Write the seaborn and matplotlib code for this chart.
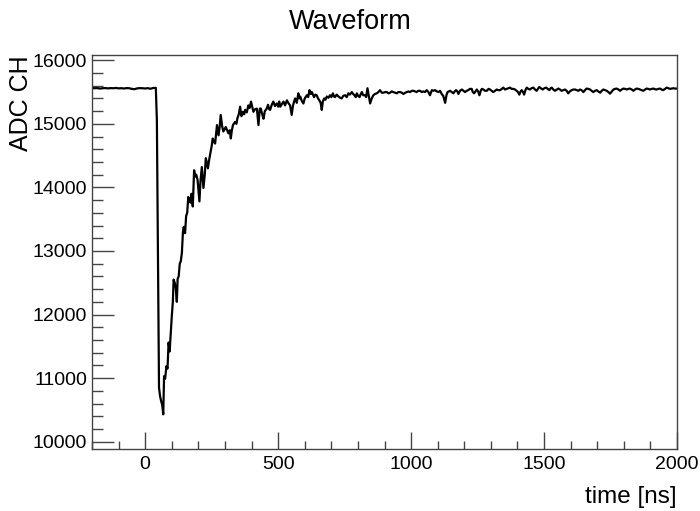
import numpy as np
import pandas as pd
import matplotlib
matplotlib.use("Agg")
import matplotlib.pyplot as plt
import seaborn as sns
from matplotlib.ticker import MultipleLocator

# Waveform samples (time in ns, ADC counts)
time_ns = [
    -200, -190, -180, -170, -160, -150, -140, -130, -120, -110, -100, -90, -80,
    -70, -60, -50, -40, -30, -20, -10, 0, 10, 20, 30, 40, 44, 48, 52, 56, 60,
    64, 68, 71, 75, 80, 84, 88, 92, 96, 100, 104, 107, 111, 115, 119, 122, 126,
    130, 134, 138, 142, 145, 150, 154, 158, 162, 166, 170, 174, 179, 184, 188,
    192, 197, 204, 208, 213, 219, 224, 228, 236, 240, 244, 250, 254, 258, 263,
    270, 276, 280, 284, 290, 294, 303, 308, 313, 318, 322, 326, 330, 338, 343,
    347, 352, 357, 362, 367, 372, 376, 382, 388, 393, 398, 403, 407, 413, 420,
    426, 431, 435, 440, 445, 450, 457, 462, 466, 470, 476, 482, 488, 495, 500,
    504, 508, 514, 520, 526, 533, 538, 545, 551, 556, 560, 564, 570, 576, 580,
    583, 589, 595, 600, 608, 613, 618, 623, 627, 631, 635, 640, 645, 650, 655,
    660, 664, 668, 673, 678, 683, 689, 695, 700, 706, 710, 714, 720, 727, 733,
    739, 745, 752, 758, 764, 770, 777, 782, 787, 792, 796, 801, 806, 811, 815,
    820, 827, 831, 836, 841, 846, 852, 858, 864, 871, 877, 883, 890, 896, 903,
    909, 915, 921, 927, 933, 940, 946, 952, 959, 965, 971, 978, 984, 990, 996,
    1003, 1009, 1015, 1021, 1027, 1034, 1040, 1046, 1052, 1059, 1065, 1071,
    1078, 1084, 1090, 1097, 1103, 1109, 1115, 1121, 1128, 1133, 1137, 1142,
    1147, 1153, 1159, 1164, 1169, 1174, 1178, 1184, 1191, 1197, 1203, 1209,
    1215, 1221, 1228, 1232, 1237, 1242, 1247, 1252, 1257, 1262, 1266, 1272,
    1278, 1285, 1291, 1297, 1303, 1309, 1316, 1322, 1328, 1335, 1341, 1347,
    1353, 1360, 1366, 1372, 1378, 1385, 1391, 1397, 1402, 1407, 1412, 1416,
    1421, 1425, 1430, 1435, 1441, 1447, 1453, 1460, 1466, 1472, 1477, 1482,
    1488, 1495, 1501, 1508, 1514, 1520, 1525, 1529, 1535, 1541, 1548, 1554,
    1560, 1566, 1572, 1579, 1585, 1591, 1597, 1604, 1610, 1617, 1623, 1629,
    1635, 1641, 1648, 1654, 1660, 1667, 1673, 1679, 1685, 1692, 1698, 1704,
    1711, 1717, 1723, 1730, 1736, 1742, 1748, 1755, 1761, 1767, 1773, 1780,
    1786, 1792, 1798, 1805, 1811, 1817, 1823, 1830, 1836, 1842, 1848, 1855,
    1861, 1867, 1873, 1880, 1886, 1892, 1898, 1905, 1911, 1917, 1923, 1930,
    1936, 1942, 1948, 1955, 1961, 1967, 1974, 1980, 1986, 1993, 2000,
]
adc_ch = [
    15565, 15560, 15562, 15555, 15560, 15563, 15558, 15562, 15560, 15565, 15558,
    15561, 15556, 15562, 15560, 15550, 15545, 15558, 15562, 15560, 15556, 15561,
    15552, 15564, 15566, 15050, 12900, 10850, 10715, 10640, 10580, 10430, 11030,
    10990, 11190, 11150, 11560, 11420, 11700, 11970, 12200, 12550, 12500, 12420,
    12200, 12560, 12600, 12800, 12840, 12970, 13300, 13380, 13280, 13550, 13600,
    13850, 13800, 13760, 13900, 13700, 14270, 14170, 14200, 14120, 13780, 14100,
    14320, 13990, 14200, 14460, 14300, 14420, 14510, 14650, 14770, 14720, 14690,
    14980, 14820, 14950, 15140, 14950, 14880, 14950, 14900, 14850, 14900, 14770,
    14900, 14980, 15030, 15000, 15090, 15150, 15270, 15120, 15190, 15150, 15220,
    15180, 15290, 15250, 15350, 15260, 15190, 15230, 15240, 14980, 15240, 15240,
    15150, 15080, 15200, 15240, 15300, 15230, 15220, 15300, 15350, 15280, 15320,
    15270, 15350, 15270, 15310, 15350, 15290, 15370, 15330, 15290, 15140, 15290,
    15350, 15400, 15330, 15480, 15400, 15430, 15360, 15320, 15400, 15450, 15420,
    15530, 15470, 15500, 15460, 15420, 15460, 15450, 15400, 15370, 15330, 15220,
    15350, 15400, 15380, 15430, 15410, 15450, 15420, 15480, 15430, 15420, 15460,
    15430, 15410, 15400, 15440, 15450, 15420, 15480, 15460, 15500, 15470, 15450,
    15420, 15480, 15440, 15420, 15470, 15500, 15450, 15450, 15420, 15560, 15440,
    15320, 15400, 15450, 15470, 15480, 15500, 15530, 15490, 15490, 15500, 15500,
    15480, 15490, 15510, 15500, 15490, 15480, 15500, 15500, 15490, 15470, 15490,
    15500, 15510, 15500, 15520, 15520, 15510, 15500, 15520, 15520, 15500, 15510,
    15500, 15530, 15500, 15450, 15530, 15520, 15530, 15510, 15500, 15520, 15470,
    15440, 15330, 15450, 15500, 15510, 15520, 15500, 15480, 15510, 15530, 15510,
    15470, 15520, 15540, 15520, 15500, 15520, 15530, 15550, 15550, 15500, 15480,
    15510, 15540, 15510, 15450, 15520, 15550, 15540, 15520, 15520, 15550, 15540,
    15520, 15500, 15520, 15540, 15530, 15530, 15550, 15570, 15540, 15550, 15560,
    15570, 15550, 15550, 15540, 15520, 15500, 15460, 15510, 15530, 15500, 15460,
    15530, 15570, 15550, 15540, 15560, 15570, 15540, 15520, 15550, 15580, 15560,
    15540, 15560, 15570, 15550, 15530, 15560, 15570, 15540, 15520, 15540, 15555,
    15540, 15520, 15530, 15540, 15520, 15480, 15510, 15530, 15540, 15540, 15530,
    15520, 15540, 15530, 15500, 15530, 15555, 15550, 15540, 15520, 15500, 15520,
    15530, 15510, 15490, 15520, 15540, 15530, 15520, 15500, 15475, 15510, 15540,
    15550, 15555, 15540, 15520, 15540, 15555, 15550, 15540, 15550, 15555, 15540,
    15520, 15540, 15555, 15550, 15540, 15530, 15520, 15540, 15555, 15550, 15540,
    15550, 15555, 15545, 15540, 15550, 15555, 15540, 15530, 15550, 15570, 15560,
    15550, 15555, 15560, 15555, 15555,
]

df = pd.DataFrame({"time": time_ns, "adc": adc_ch})

sns.set_theme(style="ticks")
plt.rcParams["font.family"] = ["Liberation Sans", "DejaVu Sans"]
plt.rcParams["text.color"] = "black"
plt.rcParams["axes.labelcolor"] = "black"

fig = plt.figure(figsize=(7, 5.11), dpi=100)
ax = fig.add_axes([92 / 700, 1 - 449 / 511, 585 / 700, 394 / 511])

sns.lineplot(data=df, x="time", y="adc", color="black", linewidth=1.6,
             estimator=None, ax=ax)

ax.set_xlim(-200, 2000)
ax.set_ylim(9885, 16083)
ax.xaxis.set_major_locator(MultipleLocator(500))
ax.xaxis.set_minor_locator(MultipleLocator(100))
ax.yaxis.set_major_locator(MultipleLocator(1000))
ax.yaxis.set_minor_locator(MultipleLocator(200))

frame = "#444444"
for s in ax.spines.values():
    s.set_color(frame)
    s.set_linewidth(1.0)
ax.tick_params(which="both", direction="in", top=False, right=False,
               color=frame, labelcolor="black", labelsize=14, width=1.0)
ax.tick_params(axis="x", which="major", length=12, pad=5)
ax.tick_params(axis="x", which="minor", length=6)
ax.tick_params(axis="y", which="major", length=16, pad=3.5)
ax.tick_params(axis="y", which="minor", length=8)

ax.set_xlabel("time [ns]", fontsize=17.5, loc="right", color="black")
ax.set_ylabel("ADC CH", fontsize=18, loc="top", color="black")
ax.xaxis.set_label_coords(1.0, -0.095)
ax.yaxis.set_label_coords(-0.1, 1.0)

fig.text(0.5, 1 - 22 / 511, "Waveform", ha="center", va="center",
         fontsize=19.5, color="black")

fig.savefig("out.png", dpi=100)
